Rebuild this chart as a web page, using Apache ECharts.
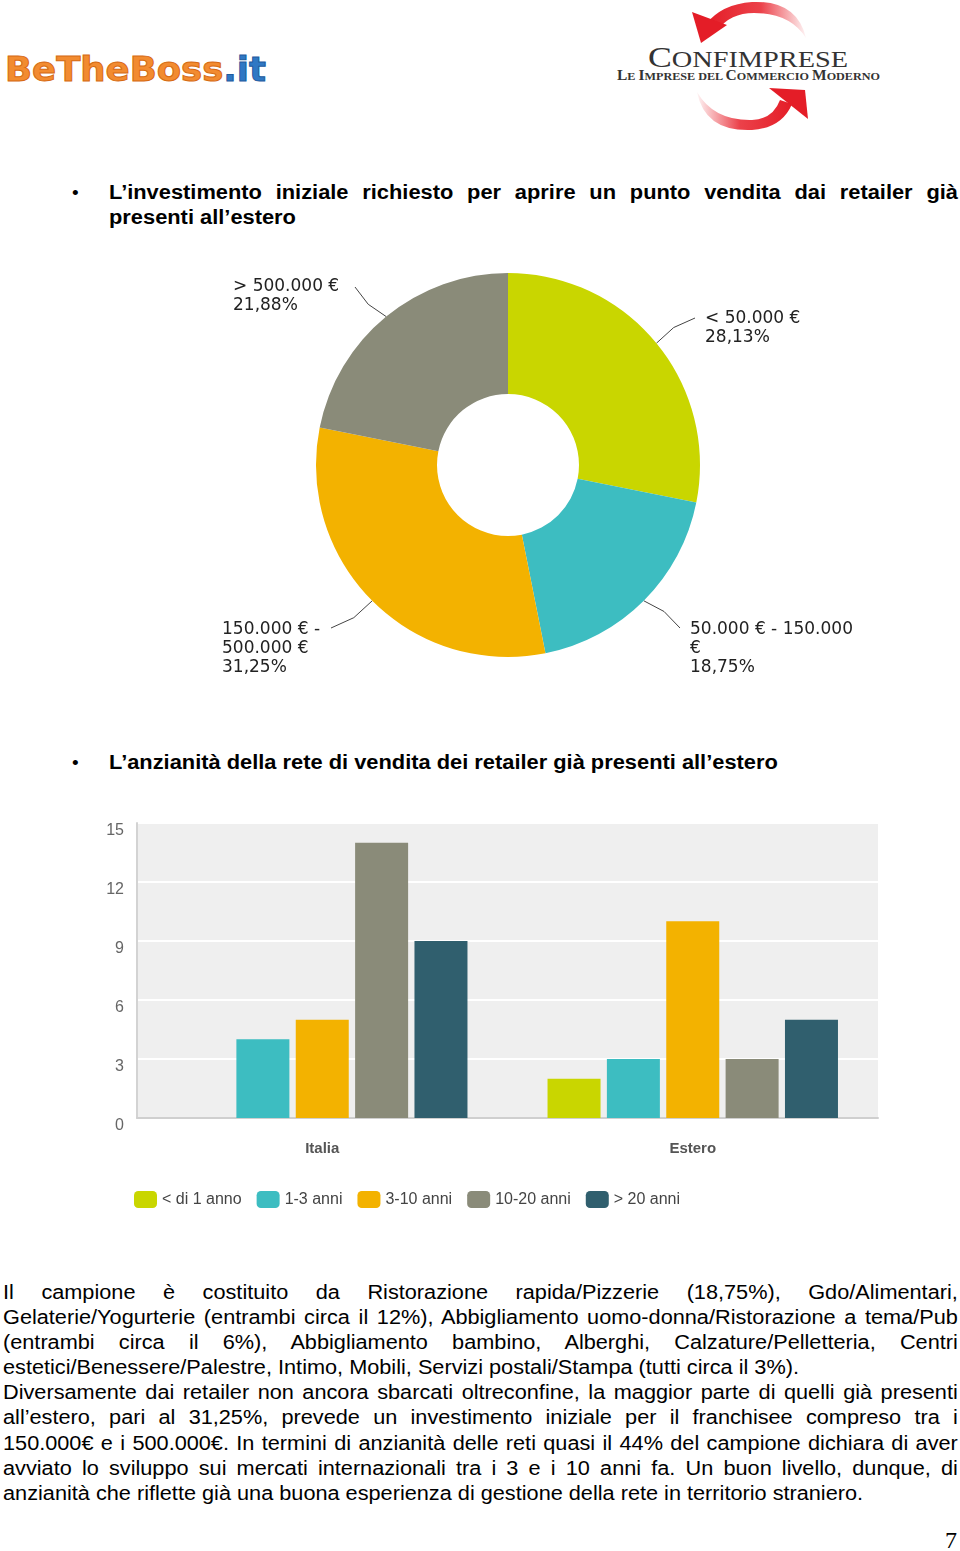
<!DOCTYPE html>
<html><head><meta charset="utf-8">
<script src="https://cdn.jsdelivr.net/npm/echarts@6/dist/echarts.min.js"></script>
<style>
html,body{margin:0;padding:0;background:#fff;}
body{width:960px;height:1551px;position:relative;overflow:hidden;font-family:"Liberation Sans",Arial,sans-serif;color:#000;}
.abs{position:absolute;}
.bullet{font-size:19px;line-height:25px;}
.head{left:109px;font-size:19.5px;font-weight:bold;line-height:25px;transform-origin:0 0;transform:scaleX(1.12);}
.para{left:3px;width:880px;font-size:20px;line-height:25.1px;transform-origin:0 0;transform:scaleX(1.085);}
.j{text-align:justify;text-align-last:justify;}
.l{text-align:left;white-space:nowrap;}
</style></head>
<body>
<svg class="abs" style="left:0;top:0" width="960" height="140" xmlns="http://www.w3.org/2000/svg">
  <defs>
    <linearGradient id="gt" x1="0" x2="1" y1="0" y2="0">
      <stop offset="0" stop-color="#e41d27"/>
      <stop offset="0.55" stop-color="#e8202a" stop-opacity="0.85"/>
      <stop offset="1" stop-color="#e8202a" stop-opacity="0.05"/>
    </linearGradient>
    <linearGradient id="gb" x1="0" x2="1" y1="0" y2="0">
      <stop offset="0" stop-color="#e8202a" stop-opacity="0.05"/>
      <stop offset="0.45" stop-color="#e8202a" stop-opacity="0.85"/>
      <stop offset="1" stop-color="#e41d27"/>
    </linearGradient>
  </defs>
  <text x="5" y="81" textLength="261" lengthAdjust="spacingAndGlyphs" font-family="DejaVu Sans" font-weight="bold" font-size="34" fill="#f28b30" stroke="#d66a12" stroke-width="1">BeTheBoss<tspan fill="#2f78c4" stroke="#1f5b9e">.it</tspan></text>
  <path d="M806,38 Q797,0 752,2 Q722,4 706,24 L718,30 Q730,13 754,13 Q790,13 806,38 Z" fill="url(#gt)"/>
  <polygon points="692,12 727,25 701,43" fill="#e41d27"/>
  <path d="M697,92 Q705,132 752,130 Q782,128 792,104 L780,100 Q773,119 752,120 Q714,121 697,92 Z" fill="url(#gb)"/>
  <polygon points="769,88 805,90 808,119" fill="#e41d27"/>
  <text x="648" y="67" textLength="200" lengthAdjust="spacingAndGlyphs" font-family="Liberation Serif" fill="#333"><tspan font-size="29">C</tspan><tspan font-size="23">ONFIMPRESE</tspan></text>
  <text x="617" y="80" textLength="263" lengthAdjust="spacingAndGlyphs" font-family="Liberation Serif" font-weight="bold" fill="#333"><tspan font-size="14">L</tspan><tspan font-size="11">E </tspan><tspan font-size="14">I</tspan><tspan font-size="11">MPRESE DEL </tspan><tspan font-size="14">C</tspan><tspan font-size="11">OMMERCIO </tspan><tspan font-size="14">M</tspan><tspan font-size="11">ODERNO</tspan></text>
</svg>

<div class="abs bullet" style="left:72px;top:180px;">•</div>
<div class="abs head" style="top:180px;width:758px;">
  <div class="j">L’investimento iniziale richiesto per aprire un punto vendita dai retailer già</div>
  <div class="l">presenti all’estero</div>
</div>

<div id="pie" class="abs" style="left:0;top:240px;width:960px;height:460px;"></div>

<div class="abs bullet" style="left:72px;top:750px;">•</div>
<div class="abs head" style="top:750px;width:758px;">
  <div class="l">L’anzianità della rete di vendita dei retailer già presenti all’estero</div>
</div>

<div id="bar" class="abs" style="left:0;top:800px;width:960px;height:430px;"></div>

<div class="abs para" style="top:1280px;">
  <div class="j">Il campione è costituito da Ristorazione rapida/Pizzerie (18,75%), Gdo/Alimentari,</div>
  <div class="j">Gelaterie/Yogurterie (entrambi circa il 12%), Abbigliamento uomo-donna/Ristorazione a tema/Pub</div>
  <div class="j">(entrambi circa il 6%), Abbigliamento bambino, Alberghi, Calzature/Pelletteria, Centri</div>
  <div class="l">estetici/Benessere/Palestre, Intimo, Mobili, Servizi postali/Stampa (tutti circa il 3%).</div>
  <div class="j">Diversamente dai retailer non ancora sbarcati oltreconfine, la maggior parte di quelli già presenti</div>
  <div class="j">all’estero, pari al 31,25%, prevede un investimento iniziale per il franchisee compreso tra i</div>
  <div class="j">150.000€ e i 500.000€. In termini di anzianità delle reti quasi il 44% del campione dichiara di aver</div>
  <div class="j">avviato lo sviluppo sui mercati internazionali tra i 3 e i 10 anni fa. Un buon livello, dunque, di</div>
  <div class="l">anzianità che riflette già una buona esperienza di gestione della rete in territorio straniero.</div>
</div>

<div class="abs" style="left:945px;top:1527px;font-family:'Liberation Serif',serif;font-size:24px;">7</div>

<script>
// ---- Data ----
const sliceNames = ['< 50.000 €', '50.000 € - 150.000 €', '150.000 € - 500.000 €', '> 500.000 €'];
const sliceLabelText = ['< 50.000 €', '50.000 € - 150.000\n€', '150.000 € -\n500.000 €', '> 500.000 €'];
const sliceValues = [28.13, 18.75, 31.25, 21.88];

const categories = ['Italia', 'Estero'];
const seriesNames = ['< di 1 anno', '1-3 anni', '3-10 anni', '10-20 anni', '> 20 anni'];
const lessThan1 = [0, 2];
const from1to3 = [4, 3];
const from3to10 = [5, 10];
const from10to20 = [14, 3];
const over20 = [9, 5];
const yTickValues = [0, 3, 6, 9, 12, 15];

// ---- Styles / layout ----
const palette = ['#c9d600', '#3dbdc1', '#f3b200', '#8a8b79', '#305f6e'];
// label anchor (top-left) and line end offset, in container px
const labelPlacement = [
  { x: 705, y: 69, endDx: -10, endDy: 9 },
  { x: 690, y: 380, endDx: -10, endDy: 8 },
  { x: 222, y: 380, endDx: 109, endDy: 8 },
  { x: 233, y: 37, endDx: 122, endDy: 10 }
];

const pie = echarts.init(document.getElementById('pie'));
pie.setOption({
  animation: false,
  color: palette,
  series: [{
    type: 'pie',
    center: [508, 225],
    radius: [71, 192],
    startAngle: 90,
    clockwise: true,
    avoidLabelOverlap: false,
    itemStyle: { borderWidth: 0 },
    label: {
      show: true,
      color: '#222',
      fontFamily: 'DejaVu Sans',
      fontSize: 17,
      lineHeight: 19,
      formatter: p => sliceLabelText[p.dataIndex] + '\n' + p.value.toFixed(2).replace('.', ',') + '%'
    },
    labelLine: { show: true, lineStyle: { color: '#444', width: 1 } },
    labelLayout: function (params) {
      const lp = labelPlacement[params.dataIndex];
      const start = params.labelLinePoints ? params.labelLinePoints[0] : null;
      const res = { x: lp.x, y: lp.y, align: 'left', verticalAlign: 'top' };
      if (start) {
        const end = [lp.x + lp.endDx, lp.y + lp.endDy];
        const mid = [(start[0] + end[0]) / 2 + (end[1] - start[1]) * 0.08, (start[1] + end[1]) / 2 - (end[0] - start[0]) * 0.08];
        res.labelLinePoints = [start, mid, end];
      }
      return res;
    },
    data: sliceNames.map((n, i) => ({ name: n, value: sliceValues[i] }))
  }]
});

const seriesData = [lessThan1, from1to3, from3to10, from10to20, over20];
const bar = echarts.init(document.getElementById('bar'));
bar.setOption({
  animation: false,
  color: palette,
  grid: { left: 137, right: 82, top: 23, bottom: 112, show: true, backgroundColor: '#efefef', borderWidth: 0 },
  legend: {
    left: 134, top: 391, padding: 0,
    icon: 'roundRect', itemWidth: 23, itemHeight: 17, itemGap: 15,
    textStyle: { color: '#444', fontSize: 16, fontFamily: 'Liberation Sans' },
    data: seriesNames
  },
  xAxis: {
    type: 'category',
    data: categories,
    axisLine: { lineStyle: { color: '#cfcfcf', width: 2 } },
    axisTick: { show: false },
    axisLabel: { color: '#555', fontWeight: 'bold', fontSize: 15, margin: 23, fontFamily: 'Liberation Sans' }
  },
  yAxis: {
    type: 'value',
    min: yTickValues[0], max: yTickValues[yTickValues.length - 1], interval: 3,
    axisLine: { show: true, lineStyle: { color: '#d3d3d3', width: 2 } },
    axisTick: { show: false },
    splitLine: { lineStyle: { color: '#ffffff', width: 2 } },
    axisLabel: { color: '#666', fontSize: 16, margin: 13, verticalAlign: 'top', lineHeight: 16, fontFamily: 'Liberation Sans' }
  },
  series: seriesNames.map((n, i) => ({
    name: n, type: 'bar', data: seriesData[i], barWidth: 53, barGap: '12%'
  }))
});
</script>
</body></html>
